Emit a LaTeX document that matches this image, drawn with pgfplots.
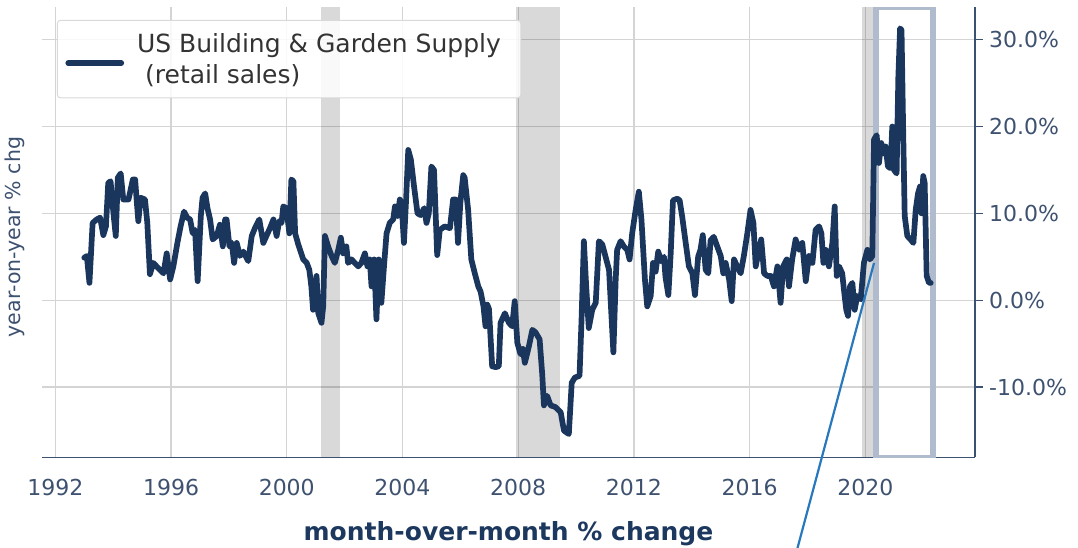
\documentclass[border=0pt]{standalone}
\usepackage{pgfplots}
\pgfplotsset{compat=1.18}
\usepackage{fontspec}
\setmainfont{DejaVu Sans}
\definecolor{navy}{RGB}{26,54,93}
\definecolor{slate}{RGB}{60,80,112}
\definecolor{ticklab}{RGB}{62,82,112}
\definecolor{annot}{RGB}{40,120,190}
\definecolor{boxc}{RGB}{176,188,206}
\definecolor{xlab}{RGB}{28,56,94}
\begin{document}
\begin{tikzpicture}
\begin{axis}[
  scale only axis, width=933pt, height=450pt,
  xmin=1991.54, xmax=2023.79, ymin=-18.1, ymax=33.7,
  axis x line*=bottom, axis y line*=right,
  axis line style={slate, line width=1.4pt},
  xtick={1992,1996,...,2020},
  xticklabels={1992,1996,2000,2004,2008,2012,2016,2020},
  ytick={-10,0,10,20,30},
  yticklabels={-10.0\%,0.0\%,10.0\%,20.0\%,30.0\%},
  xtick style={draw=none},
  ytick style={slate, line width=1.4pt},
  tick align=outside, major tick length=8pt,
  grid=major, grid style={black!17, line width=1.3pt},
  tick label style={font=\fontsize{22}{26}\selectfont, text=ticklab},
  xticklabel style={anchor=base, yshift=-30pt},
  yticklabel style={anchor=west, inner sep=0pt, xshift=6pt},
  xlabel={month-over-month \% change},
  xlabel style={font=\bfseries\fontsize{25}{30}\selectfont, text=xlab, at={(axis description cs:0.5,0)}, anchor=base, yshift=-82.5pt},
  clip=true, clip mode=individual,
  legend style={at={(axis description cs:0.016,0.9725)}, anchor=north west, draw=black!15, line width=1pt, rounded corners=3pt, fill=white, fill opacity=0.85, text opacity=1, font=\fontsize{25}{31}\selectfont, text=black!80, inner xsep=8pt, inner ysep=11pt, cells={align=left}},
  legend cell align=left,
  legend image code/.code={\draw[#1, line width=5.7pt, line cap=round] (0pt,-4pt) -- (53pt,-4pt);},
]
\addplot[draw=none, fill=black, fill opacity=0.15, forget plot] coordinates {(2001.17,-18.1) (2001.83,-18.1) (2001.83,33.7) (2001.17,33.7)} -- cycle;
\addplot[draw=none, fill=black, fill opacity=0.15, forget plot] coordinates {(2007.92,-18.1) (2009.45,-18.1) (2009.45,33.7) (2007.92,33.7)} -- cycle;
\addplot[draw=none, fill=black, fill opacity=0.15, forget plot] coordinates {(2019.9,-18.1) (2020.3,-18.1) (2020.3,33.7) (2019.9,33.7)} -- cycle;
\addplot[draw=boxc, line width=5.5pt, forget plot] coordinates {(2020.36,-18.1) (2020.36,33.7) (2022.34,33.7) (2022.34,-18.1)} -- cycle;
\addplot[navy, line width=5.7pt, line join=round, line cap=round] coordinates {
(1993.00,4.9) (1993.09,5.1) (1993.18,2.0) (1993.29,8.9) (1993.43,9.3) (1993.55,9.5) (1993.66,7.5) (1993.75,8.5) (1993.83,13.5) (1993.91,13.7) (1994.01,10.0) (1994.09,7.4) (1994.16,14.1) (1994.26,14.6) (1994.35,11.6) (1994.53,11.6) (1994.68,13.9) (1994.76,13.9) (1994.81,11.6) (1994.87,9.1) (1994.95,11.8) (1995.10,11.6) (1995.18,8.9) (1995.27,3.0) (1995.39,4.3) (1995.50,3.9) (1995.62,3.5) (1995.74,3.1) (1995.85,5.4) (1995.97,2.4) (1996.08,3.9) (1996.22,6.6) (1996.33,8.5) (1996.45,10.2) (1996.56,9.5) (1996.66,9.3) (1996.75,7.7) (1996.83,8.1) (1996.92,2.2) (1997.03,9.7) (1997.09,11.8) (1997.18,12.3) (1997.26,10.6) (1997.35,9.3) (1997.44,7.0) (1997.58,7.4) (1997.69,8.7) (1997.79,6.2) (1997.87,9.3) (1997.92,9.3) (1998.02,6.2) (1998.10,6.6) (1998.18,4.3) (1998.27,6.6) (1998.38,5.1) (1998.50,5.6) (1998.67,4.5) (1998.79,7.4) (1998.90,8.3) (1999.05,9.3) (1999.19,6.6) (1999.31,7.5) (1999.42,8.3) (1999.54,9.3) (1999.65,7.4) (1999.74,9.1) (1999.82,8.9) (1999.88,10.8) (1999.99,10.6) (2000.09,7.7) (2000.16,13.9) (2000.23,13.7) (2000.29,7.7) (2000.40,6.4) (2000.57,4.7) (2000.69,4.3) (2000.78,3.5) (2000.85,1.6) (2000.91,-1.1) (2001.03,2.8) (2001.09,-1.5) (2001.20,-2.6) (2001.26,-0.7) (2001.32,7.4) (2001.43,6.2) (2001.55,5.1) (2001.66,4.3) (2001.78,5.8) (2001.87,7.2) (2001.95,5.4) (2002.06,6.2) (2002.12,4.3) (2002.24,4.7) (2002.35,4.3) (2002.47,3.9) (2002.58,4.3) (2002.70,5.4) (2002.79,3.9) (2002.87,4.7) (2002.93,1.6) (2003.02,4.7) (2003.10,-2.2) (2003.18,4.7) (2003.27,-0.3) (2003.37,4.3) (2003.45,7.7) (2003.56,8.9) (2003.68,9.3) (2003.74,10.8) (2003.83,9.7) (2003.91,11.6) (2003.97,11.2) (2004.05,6.6) (2004.12,11.2) (2004.20,17.3) (2004.29,16.2) (2004.40,13.1) (2004.52,10.0) (2004.63,9.8) (2004.75,10.6) (2004.83,8.9) (2004.91,10.0) (2005.00,15.4) (2005.09,15.0) (2005.20,5.2) (2005.29,8.1) (2005.46,8.5) (2005.64,8.3) (2005.75,11.6) (2005.84,11.6) (2005.92,6.6) (2006.00,11.2) (2006.10,14.4) (2006.15,14.1) (2006.27,10.4) (2006.38,4.7) (2006.50,3.1) (2006.62,1.6) (2006.70,1.0) (2006.80,-0.7) (2006.87,-3.0) (2006.93,-0.5) (2006.99,-1.0) (2007.10,-7.6) (2007.22,-7.7) (2007.33,-7.6) (2007.39,-2.6) (2007.54,-1.5) (2007.68,-2.6) (2007.79,-3.0) (2007.88,-0.1) (2007.97,-4.9) (2008.08,-6.2) (2008.16,-5.6) (2008.23,-7.2) (2008.37,-5.3) (2008.49,-3.4) (2008.60,-3.7) (2008.74,-4.5) (2008.83,-8.5) (2008.89,-12.1) (2009.00,-11.0) (2009.12,-12.1) (2009.29,-12.3) (2009.47,-12.9) (2009.58,-15.0) (2009.75,-15.4) (2009.85,-9.5) (2009.96,-8.9) (2010.12,-8.7) (2010.19,-2.2) (2010.27,6.8) (2010.35,1.6) (2010.44,-3.2) (2010.56,-1.1) (2010.68,-0.3) (2010.79,6.8) (2010.91,6.4) (2011.02,5.0) (2011.14,3.5) (2011.29,-6.0) (2011.37,2.4) (2011.42,5.8) (2011.54,6.8) (2011.65,6.2) (2011.77,5.8) (2011.85,4.7) (2011.94,7.7) (2012.06,10.4) (2012.17,12.5) (2012.26,9.3) (2012.38,2.4) (2012.46,-0.7) (2012.58,0.5) (2012.66,4.3) (2012.75,3.3) (2012.84,5.6) (2012.94,4.5) (2013.04,5.0) (2013.09,2.7) (2013.19,0.6) (2013.27,5.3) (2013.35,11.5) (2013.50,11.7) (2013.58,11.5) (2013.67,9.6) (2013.79,6.6) (2013.90,3.9) (2014.02,3.1) (2014.11,0.6) (2014.22,5.0) (2014.30,5.8) (2014.38,7.5) (2014.48,3.5) (2014.57,3.1) (2014.65,6.9) (2014.76,7.3) (2014.88,6.2) (2015.00,5.1) (2015.09,3.1) (2015.17,4.3) (2015.29,2.4) (2015.38,-0.1) (2015.46,4.7) (2015.57,3.9) (2015.69,3.1) (2015.80,5.1) (2015.92,7.7) (2016.03,10.4) (2016.13,8.9) (2016.21,3.9) (2016.32,5.8) (2016.40,7.0) (2016.50,3.1) (2016.61,2.8) (2016.73,2.8) (2016.84,1.6) (2016.96,3.9) (2017.07,-0.3) (2017.16,3.9) (2017.28,4.7) (2017.36,1.6) (2017.47,4.7) (2017.59,7.0) (2017.71,5.8) (2017.82,6.6) (2017.94,2.2) (2018.05,5.1) (2018.17,4.3) (2018.28,8.1) (2018.40,8.5) (2018.48,7.7) (2018.55,4.3) (2018.63,5.8) (2018.74,3.9) (2018.86,6.6) (2018.94,10.8) (2019.01,2.8) (2019.09,3.9) (2019.20,3.1) (2019.26,1.2) (2019.34,-1.1) (2019.40,-1.8) (2019.47,1.6) (2019.55,2.0) (2019.63,-1.1) (2019.72,0.5) (2019.84,0.1) (2019.95,4.3) (2020.07,5.8) (2020.16,4.7) (2020.24,5.1) (2020.30,18.5) (2020.39,19.0) (2020.47,15.8) (2020.55,18.1) (2020.64,16.9) (2020.70,17.7) (2020.78,15.4) (2020.87,15.2) (2020.93,20.0) (2020.99,15.0) (2021.08,14.6) (2021.14,25.7) (2021.20,31.3) (2021.25,31.1) (2021.31,18.9) (2021.36,9.7) (2021.45,7.4) (2021.56,7.0) (2021.66,6.6) (2021.74,10.4) (2021.82,12.3) (2021.89,13.1) (2021.94,10.0) (2022.00,14.3) (2022.05,13.5) (2022.12,2.8) (2022.20,2.0) (2022.26,2.0)
};
\addlegendentry{\hspace*{11pt}US Building \& Garden Supply\hspace*{10pt}\\\hspace*{11pt}\hspace*{0.32em}(retail sales)}
\draw[annot, line width=2.2pt] (axis cs:2020.3,4.3) -- (axis cs:2017.64,-28.7);
\node[rotate=90, font=\fontsize{20.5}{24}\selectfont, text=slate] at (axis description cs:-0.029,0.49) {year-on-year \% chg};
\end{axis}
\pgfresetboundingbox
\path[use as bounding box] (-42pt,-90.5pt) rectangle (1036pt,457.5pt);
\end{tikzpicture}
\end{document}
